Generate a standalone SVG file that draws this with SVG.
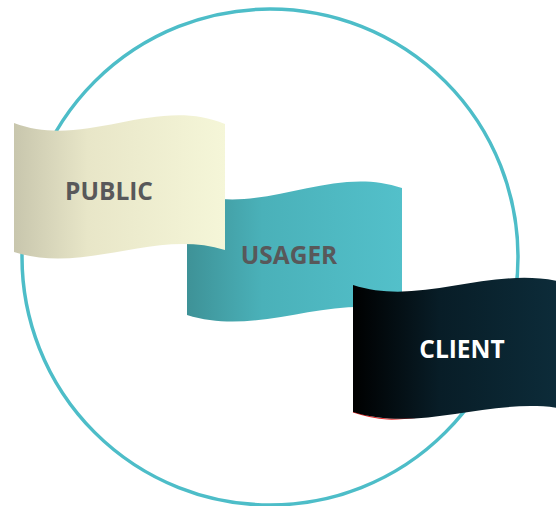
<svg xmlns="http://www.w3.org/2000/svg" width="556" height="506" viewBox="0 0 556 506">
<style>
.lbl{font-family:"Open Sans","Liberation Sans",sans-serif;font-weight:bold;font-size:24.5px;text-anchor:middle}
.dark{fill:#58585a}
.light{fill:#ffffff}
</style>
<defs>
<linearGradient id="gPub" x1="0" y1="0" x2="1" y2="0">
<stop offset="0" stop-color="#c8c6ad"/>
<stop offset="0.35" stop-color="#e8e6c8"/>
<stop offset="1" stop-color="#f5f6d8"/>
</linearGradient>
<linearGradient id="gUsa" x1="0" y1="0" x2="1" y2="0">
<stop offset="0" stop-color="#3e9297"/>
<stop offset="0.35" stop-color="#4ab1b9"/>
<stop offset="1" stop-color="#53c0ca"/>
</linearGradient>
<linearGradient id="gCli" x1="0" y1="0" x2="1" y2="0">
<stop offset="0" stop-color="#000000"/>
<stop offset="0.4" stop-color="#081d27"/>
<stop offset="1" stop-color="#0d2d3b"/>
</linearGradient>
</defs>
<circle cx="270" cy="257" r="248" fill="none" stroke="#4dbdc8" stroke-width="3.5"/>
<g id="usager">
<path d="M187,191 C258,220 328,163 402,188 L402,312 C330,292 260,338 187,315 Z" fill="url(#gUsa)"/>
<text class="lbl dark" x="289" y="264">USAGER</text>
</g>
<g id="public">
<path d="M14,123 C85,150 155,95 225,124 L225,250 C155,228 85,275 14,252 Z" fill="url(#gPub)"/>
<text class="lbl dark" x="109" y="200">PUBLIC</text>
</g>
<g id="client">
<path d="M353,412 C380,421 395,420 420,417" fill="none" stroke="#e02828" stroke-width="1.2"/>
<path d="M353,285 C424,308 494,262 570,284 L570,410 C494,394 424,434 353,412 Z" fill="url(#gCli)"/>
<text class="lbl light" x="462" y="358">CLIENT</text>
</g>
</svg>
